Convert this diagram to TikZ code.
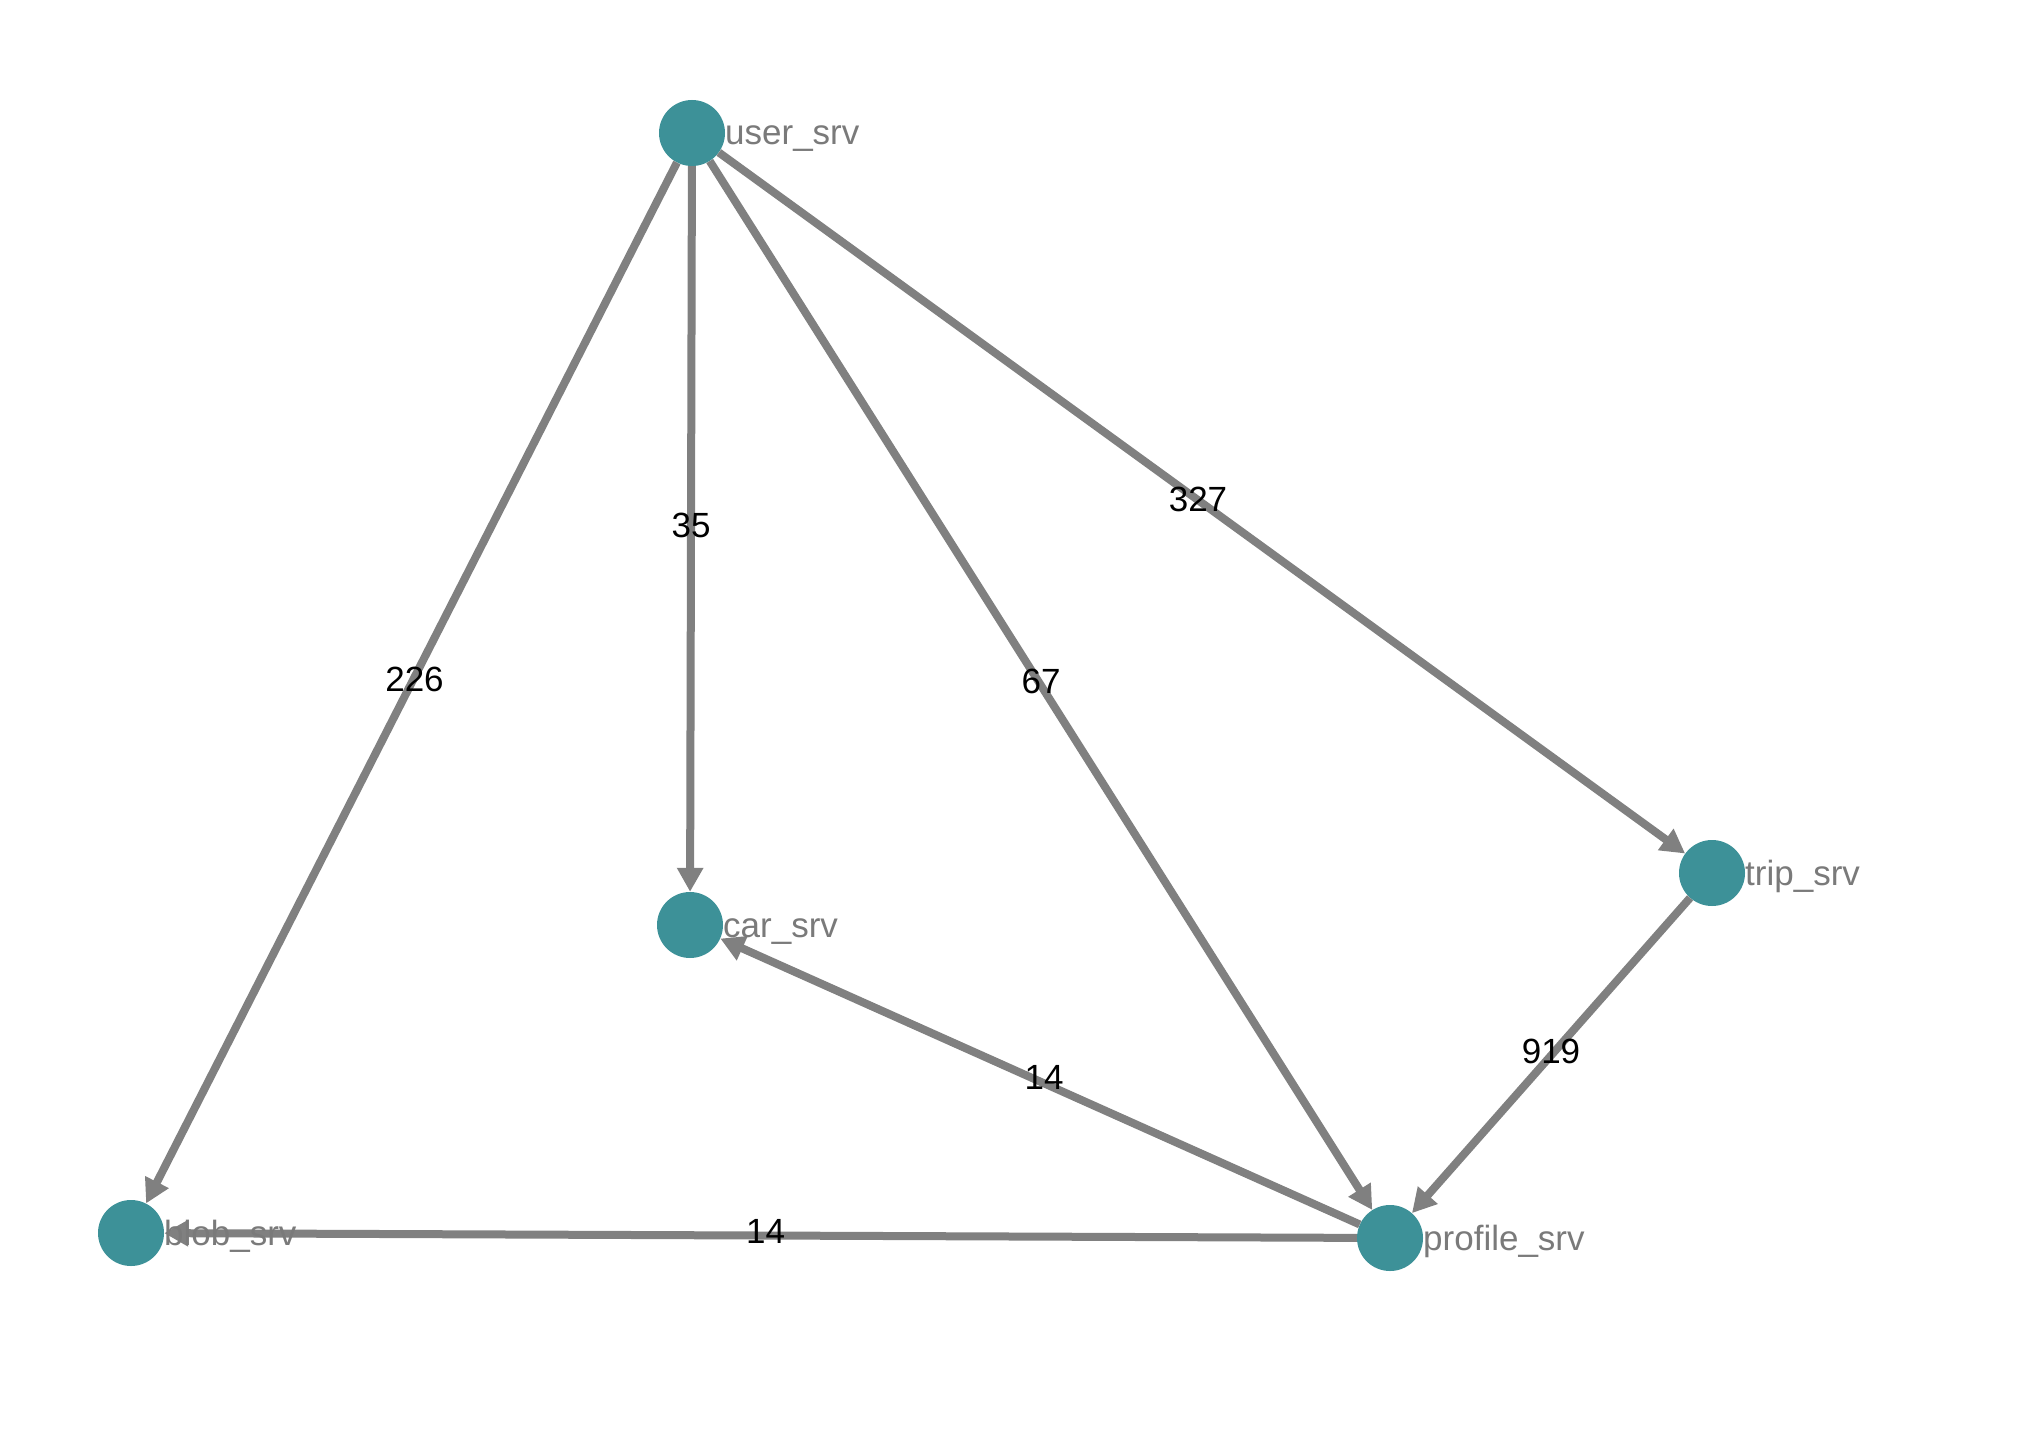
\documentclass[tikz,border=0pt]{standalone}
\usepackage{fontspec}
\setmainfont{Liberation Sans}
\usetikzlibrary{arrows.meta}
\definecolor{nodeteal}{HTML}{3D9198}
\definecolor{edgegray}{HTML}{808080}
\definecolor{labgray}{HTML}{7A7A7A}
\begin{document}
\begin{tikzpicture}[x=1pt,y=-1pt,
  svc/.style={circle,fill=nodeteal,minimum size=66pt,inner sep=0pt,draw=none},
  svclabel/.style={anchor=base west,inner sep=0pt,text=labgray,font=\fontsize{35}{40}\selectfont},
  edge/.style={draw=edgegray,line width=8pt,-{Triangle[length=24pt,width=25pt]}},
  elab/.style={midway,yshift=4pt,inner sep=0pt,font=\fontsize{35}{40}\selectfont,text=black}]
\useasboundingbox[fill=white] (0,0) rectangle (2034,1450);
% nodes
\node[svc] (user) at (692,133) {};
\node[svc] (car) at (690,925) {};
\node[svc] (blob) at (131,1233) {};
\node[svc] (profile) at (1390,1238) {};
\node[svc] (trip) at (1712,873) {};
% edges
\draw[edge] (user) -- (car) node[elab] (l35) {35};
\draw[edge] (user) -- (blob) node[elab,xshift=3pt] (l226) {226};
\draw[edge] (user) -- (profile) node[elab] (l67) {67};
\draw[edge] (user) -- (trip) node[elab,xshift=-4pt] (l327) {327};
\draw[edge] (trip) -- (profile) node[elab] (l919) {919};
\draw[edge] (profile) -- (car) node[elab,xshift=4pt] (l14a) {14};
\draw[edge] (profile) -- (blob) node[elab,xshift=5pt] (l14b) {14};
% node labels
\node[svclabel] (tuser) at (725,145) {user\_srv};
\node[svclabel] (tcar) at (723,937) {car\_srv};
\node[svclabel] (tblob) at (164,1245) {blob\_srv};
\node[svclabel] (tprofile) at (1423,1250) {profile\_srv};
\node[svclabel] (ttrip) at (1745,885) {trip\_srv};
\end{tikzpicture}
\end{document}
